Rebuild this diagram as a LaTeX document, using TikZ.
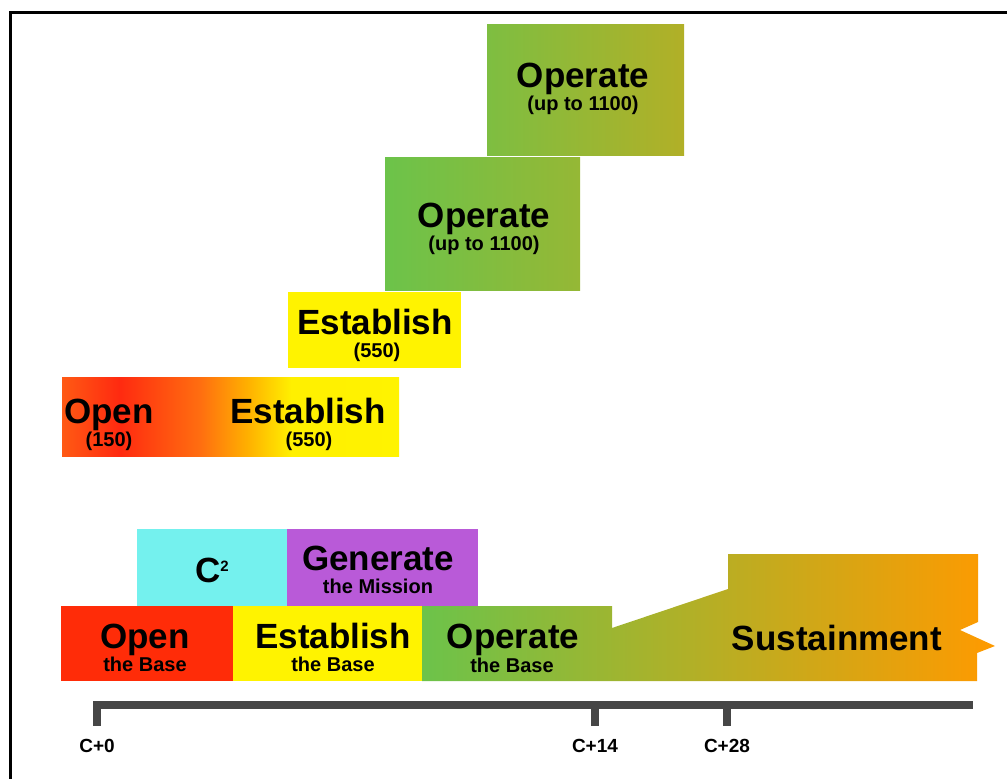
\documentclass[tikz,border=0pt]{standalone}
\usepackage{fontspec}
\setmainfont{Liberation Sans}
\usepackage{tikz}
\usepackage{xcolor}

\definecolor{openred}{HTML}{FF2C08}
\definecolor{estyellow}{HTML}{FFF300}
\definecolor{ctwocyan}{HTML}{74F1EE}
\definecolor{genpurple}{HTML}{B95AD8}
\definecolor{opgreen}{HTML}{6CC34A}
\definecolor{susorange}{HTML}{FF9A00}
\definecolor{bargray}{HTML}{464646}
\definecolor{oeA}{HTML}{FF5A14}
\definecolor{oeB}{HTML}{FF2A10}
\definecolor{oeC}{HTML}{FF6E10}
\definecolor{oeD}{HTML}{FFB000}
\definecolor{oeE}{HTML}{FFF000}

\pgfdeclarehorizontalshading{openestablish}{100bp}{color(0bp)=(oeA); color(25bp)=(oeA);
  color(33.5bp)=(oeB); color(45.5bp)=(oeC); color(52.5bp)=(oeD); color(59bp)=(oeE);
  color(75bp)=(estyellow); color(100bp)=(estyellow)}

\tikzset{
  phase/.style={font=\fontsize{35}{37}\selectfont\bfseries, anchor=base, inner sep=0pt},
  phasesub/.style={font=\fontsize{20}{22}\selectfont\bfseries, anchor=base, inner sep=0pt},
  daylabel/.style={font=\fontsize{19}{21}\selectfont\bfseries, anchor=base, inner sep=0pt}
}

\begin{document}
\begin{tikzpicture}[x=1pt, y=-1pt]
            \useasboundingbox (0,0) rectangle (1007,779);

            % frame
            \draw[line width=3.5pt] (10.5,779) -- (10.5,12.5) -- (1007,12.5);

            % stacked force build-up
            \shade[left color=opgreen!88!susorange, right color=opgreen!53!susorange] (487,24) rectangle (684,155);
            \shade[left color=opgreen, right color=opgreen!72!susorange] (385,157) rectangle (580,290);
            \fill[color=estyellow] (288,292) rectangle (461,368);
            \shade[shading=openestablish] (62,377) rectangle (399,456);

            \node[phase]    (opTopA) at (583,87)  {Operate};
            \node[phasesub] (opTopB) at (583,110) {(up to 1100)};
            \node[phase]    (opMidA) at (484,227) {Operate};
            \node[phasesub] (opMidB) at (484,250) {(up to 1100)};
            \node[phase]    (estA)   at (375,334) {Establish};
            \node[phasesub] (estB)   at (377,357) {(550)};
            \node[phase]    (oeOpen) at (109,423) {Open};
            \node[phasesub] (oeOpenB) at (109,446) {(150)};
            \node[phase]    (oeEst)  at (308,423) {Establish};
            \node[phasesub] (oeEstB) at (309,446) {(550)};

            % base phases
            \fill[color=ctwocyan] (137,529) rectangle (287,606);
            \fill[color=genpurple] (287,529) rectangle (478,606);
            \fill[color=openred] (61,606) rectangle (233,681);
            \fill[color=estyellow] (233,606) rectangle (422,681);
            \shade[left color=opgreen, right color=susorange]
              (422,606) -- (612,606) -- (612,628) -- (728,589) -- (728,554) -- (978,554)
              -- (978,622) -- (960,630) -- (995,646) -- (977,653) -- (977,681) -- (422,681) -- cycle;

            \node[phase]    (ctwo)   at (212,582) {C\raisebox{11pt}{\fontsize{15}{15}\selectfont 2}};
            \node[phase]    (genA)   at (378,570) {Generate};
            \node[phasesub] (genB)   at (378,593) {the Mission};
            \node[phase]    (openA)  at (145,648) {Open};
            \node[phasesub] (openB)  at (145,671) {the Base};
            \node[phase]    (baseEstA) at (333,648) {Establish};
            \node[phasesub] (baseEstB) at (333,671) {the Base};
            \node[phase]    (baseOpA) at (513,648) {Operate};
            \node[phasesub] (baseOpB) at (512,672) {the Base};
            \node[phase]    (sustain) at (837,650) {Sustainment};

            % time line
            \draw[color=bargray, line width=8pt] (93,705) -- (973,705);
            \foreach \tx/\tname/\ttext in {97/dayA/C+0, 595/dayB/C+14, 727/dayC/C+28} {
              \draw[color=bargray, line width=8pt] (\tx,702) -- (\tx,726);
              \node[daylabel] (\tname) at (\tx,752) {\ttext};
            }
        \end{tikzpicture}
\end{document}
